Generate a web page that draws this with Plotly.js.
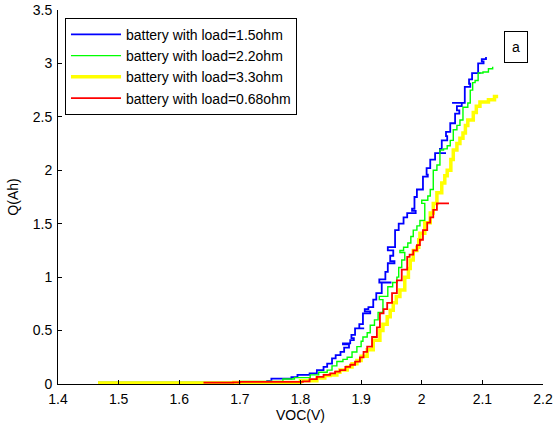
<!DOCTYPE html>
<html>
<head>
<meta charset="utf-8">
<script src="https://cdn.plot.ly/plotly-3.0.1.min.js"></script>
<style>html,body{margin:0;padding:0;background:#fff;}#chart{width:554px;height:427px;}</style>
</head>
<body>
<div id="chart"></div>
<script>
// Series: VOC (V) vs Q (Ah)
const seriesNames = ["battery with load=1.5ohm","battery with load=2.2ohm","battery with load=3.3ohm","battery with load=0.68ohm"];

const blueX = [1.466,1.700,1.745,1.752,1.785,1.795,1.815,1.827,1.838,1.844,1.852,1.858,1.866,1.872,1.880,1.870,1.882,1.888,1.884,1.890,1.905,1.890,1.897,1.903,1.915,1.906,1.912,1.920,1.925,1.934,1.950,1.934,1.930,1.940,1.944,1.955,1.948,1.953,1.944,1.956,1.962,1.970,1.976,1.990,1.984,1.988,1.992,2.002,2.010,2.008,2.014,2.022,2.040,2.022,2.030,2.033,2.042,2.040,2.047,2.055,2.062,2.058,2.066,2.050,2.066,2.071,2.080,2.078,2.083,2.097,2.083,2.093,2.102,2.099,2.106];
const blueQ = [0.012,0.015,0.030,0.050,0.065,0.085,0.100,0.130,0.160,0.190,0.240,0.270,0.300,0.340,0.370,0.380,0.410,0.430,0.460,0.520,0.520,0.520,0.560,0.660,0.680,0.700,0.720,0.790,0.850,0.950,0.950,0.950,0.980,1.050,1.130,1.150,1.200,1.250,1.280,1.440,1.500,1.560,1.600,1.620,1.640,1.750,1.820,1.940,1.960,2.020,2.100,2.160,2.160,2.160,2.200,2.280,2.320,2.360,2.440,2.530,2.560,2.600,2.630,2.630,2.630,2.780,2.810,2.850,2.910,2.910,2.910,3.000,3.020,3.040,3.060];

const greenX = [1.466,1.690,1.700,1.771,1.790,1.816,1.830,1.844,1.852,1.860,1.870,1.877,1.885,1.893,1.900,1.903,1.910,1.915,1.922,1.928,1.936,1.930,1.944,1.952,1.959,1.962,1.967,1.972,1.964,1.970,1.977,1.982,1.986,1.992,1.997,2.005,2.000,2.010,2.014,2.019,2.025,2.030,2.036,2.042,2.047,2.052,2.058,2.063,2.068,2.076,2.080,2.084,2.088,2.093,2.101,2.110,2.117];
const greenQ = [0.015,0.015,0.025,0.047,0.060,0.085,0.110,0.130,0.170,0.210,0.230,0.250,0.300,0.350,0.400,0.440,0.480,0.550,0.600,0.670,0.790,0.820,0.910,0.950,1.000,1.090,1.160,1.230,1.250,1.280,1.320,1.380,1.440,1.480,1.530,1.690,1.720,1.760,1.820,2.000,2.050,2.190,2.200,2.230,2.280,2.380,2.420,2.470,2.590,2.630,2.750,2.820,2.840,2.910,2.920,2.950,2.970];

const yellowX = [1.466,1.640,1.690,1.800,1.827,1.840,1.849,1.860,1.865,1.877,1.885,1.893,1.900,1.910,1.920,1.931,1.936,1.943,1.948,1.953,1.958,1.964,1.972,1.978,1.981,1.986,1.992,1.995,1.997,2.005,2.014,2.019,2.025,2.033,2.038,2.042,2.048,2.052,2.058,2.063,2.068,2.072,2.076,2.085,2.090,2.096,2.110,2.120,2.126];
const yellowQ = [0.010,0.010,0.015,0.030,0.056,0.080,0.085,0.110,0.130,0.160,0.190,0.220,0.260,0.320,0.410,0.500,0.560,0.630,0.690,0.760,0.820,0.880,1.000,1.080,1.160,1.250,1.280,1.350,1.410,1.510,1.600,1.690,1.790,1.880,1.950,2.000,2.100,2.190,2.250,2.300,2.350,2.420,2.470,2.540,2.600,2.640,2.660,2.690,2.690];

const redX = [1.640,1.689,1.700,1.804,1.815,1.827,1.838,1.849,1.857,1.865,1.874,1.882,1.890,1.898,1.904,1.910,1.918,1.926,1.931,1.937,1.943,1.951,1.959,1.967,1.976,1.980,1.986,1.992,1.997,2.002,2.009,2.014,2.019,2.025,2.045];
const redQ = [0.012,0.015,0.020,0.025,0.045,0.066,0.085,0.100,0.115,0.130,0.160,0.180,0.210,0.250,0.300,0.350,0.440,0.530,0.660,0.700,0.760,0.850,0.970,1.070,1.190,1.210,1.250,1.300,1.350,1.440,1.510,1.560,1.630,1.690,1.690];

const xTickVals = [1.4,1.5,1.6,1.7,1.8,1.9,2.0,2.1,2.2];
const xTickText = ["1.4","1.5","1.6","1.7","1.8","1.9","2","2.1","2.2"];
const yTickVals = [0,0.5,1,1.5,2,2.5,3,3.5];
const yTickText = ["0","0.5","1","1.5","2","2.5","3","3.5"];

const font = "Liberation Sans, Arial, sans-serif";

const traces = [
  {x: blueX, y: blueQ, name: seriesNames[0], mode: "lines", line: {color: "#0000ff", width: 1.8, shape: "hv"}},
  {x: greenX, y: greenQ, name: seriesNames[1], mode: "lines", line: {color: "#00ff00", width: 1.4, shape: "hv"}},
  {x: yellowX, y: yellowQ, name: seriesNames[2], mode: "lines", line: {color: "#ffff00", width: 3.5, shape: "hv"}},
  {x: redX, y: redQ, name: seriesNames[3], mode: "lines", line: {color: "#ff0000", width: 1.8, shape: "hv"}}
];

const layout = {
  width: 554, height: 427,
  margin: {l: 58, r: 11, t: 10, b: 43},
  paper_bgcolor: "#ffffff", plot_bgcolor: "#ffffff",
  font: {family: font, size: 14, color: "#000"},
  showlegend: true,
  legend: {x: 0.0144, y: 0.979, xanchor: "left", yanchor: "top", bordercolor: "#000", borderwidth: 1,
           bgcolor: "#fff", font: {family: font, size: 14, color: "#000"}, tracegroupgap: 0, itemwidth: 50},
  xaxis: {range: [1.4, 2.2], tickvals: xTickVals, ticktext: xTickText, ticks: "inside", ticklen: 4,
          tickcolor: "#000", showline: true, linecolor: "#000", linewidth: 1, showgrid: false, zeroline: false,
          mirror: false, ticklabelstandoff: 2, title: {text: "VOC(V)", font: {family: font, size: 14}, standoff: 4}},
  yaxis: {range: [0, 3.5], tickvals: yTickVals, ticktext: yTickText, ticks: "inside", ticklen: 4,
          tickcolor: "#000", showline: true, linecolor: "#000", linewidth: 1, showgrid: false, zeroline: false,
          mirror: false, ticklabelstandoff: 2, title: {text: "Q(Ah)", font: {family: font, size: 14}, standoff: 10}},
  annotations: [{text: "a", xref: "paper", yref: "paper", x: 0.969, y: 0.944, showarrow: false,
                 font: {family: font, size: 14, color: "#000"}, bordercolor: "#000", borderwidth: 1,
                 width: 20, height: 28, bgcolor: "#fff"}]
};

Plotly.newPlot("chart", traces, layout, {displayModeBar: false, staticPlot: true});
</script>
</body>
</html>
